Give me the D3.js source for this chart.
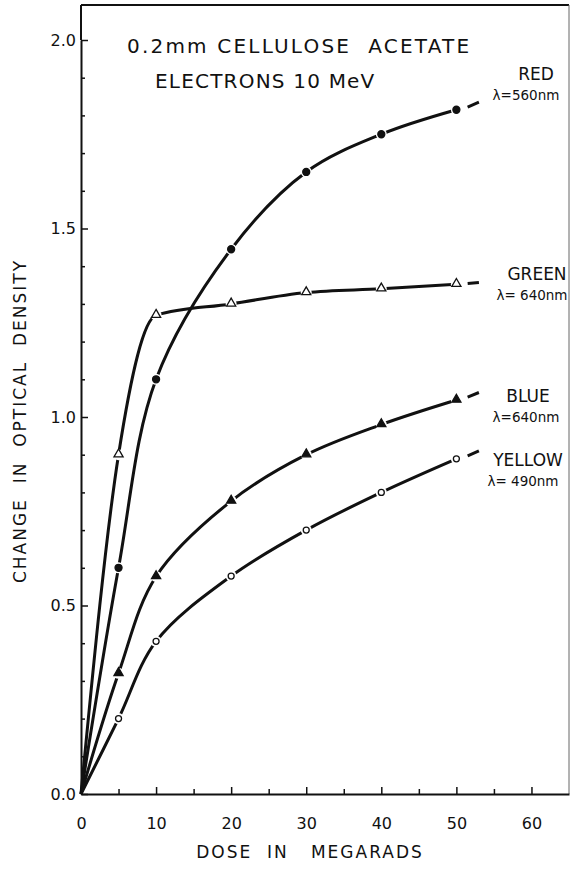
<!DOCTYPE html>
<meta charset="utf-8">
<head>
  <title>Optical density vs dose</title>
  <script src="https://cdnjs.cloudflare.com/ajax/libs/d3/7.8.5/d3.min.js"></script>
  <style>
    body { margin: 0; background: #fff; }
    text { font-family: "DejaVu Sans", sans-serif; fill: #111; }
  </style>
</head>
<body>
<div id="chart"></div>
<script>
  // doses (megarads) where samples were read
  var doses = [0, 5, 10, 20, 30, 40, 50];

  // change in optical density
  var redOD    = [0, 0.60, 1.10, 1.445, 1.65, 1.75, 1.815];
  var greenOD  = [0, 0.90, 1.27, 1.30, 1.33, 1.34, 1.352];
  var blueOD   = [0, 0.32, 0.577, 0.777, 0.90, 0.98, 1.045];
  var yellowOD = [0, 0.20, 0.405, 0.578, 0.70, 0.80, 0.889];

  // the short dashed continuation drawn past the last point
  var extDoses  = [51.5, 53];
  var redExt    = [1.822, 1.835];
  var greenExt  = [1.354, 1.357];
  var blueExt   = [1.053, 1.065];
  var yellowExt = [0.897, 0.91];

  var names  = ["RED", "GREEN", "BLUE", "YELLOW"];
  var waves  = ["\u03bb=560nm", "\u03bb= 640nm", "\u03bb=640nm", "\u03bb= 490nm"];
  var xTicks = [0, 10, 20, 30, 40, 50, 60];
  var yTicks = [0.0, 0.5, 1.0, 1.5, 2.0];

  var width = 570, height = 869;
  var svg = d3.select("#chart").append("svg")
    .attr("width", width)
    .attr("height", height);

  var x = d3.scaleLinear().domain([0, 65]).range([81, 569]);
  var y = d3.scaleLinear().domain([0, 2]).range([794, 40]);

  // frame: top and right edges
  svg.append("line").attr("x1", x(0)).attr("x2", x(65)).attr("y1", 5).attr("y2", 5)
    .attr("stroke", "#111").attr("stroke-width", 2);
  svg.append("line").attr("x1", x(65)).attr("x2", x(65)).attr("y1", 5).attr("y2", y(0))
    .attr("stroke", "#666").attr("stroke-width", 1);

  // x axis, ticks pointing inward
  svg.append("g").attr("transform", "translate(0," + y(0) + ")")
    .call(d3.axisBottom(x).tickValues(xTicks).tickFormat(d3.format("d"))
      .tickSizeInner(-7).tickSizeOuter(0).tickPadding(24));
  svg.append("g").attr("transform", "translate(0," + y(0) + ")")
    .call(d3.axisBottom(x).tickValues(d3.range(5, 65, 10)).tickFormat("")
      .tickSizeInner(-5).tickSizeOuter(0))
    .select(".domain").remove();

  svg.append("g").attr("transform", "translate(" + x(0) + ",0)")
    .call(d3.axisLeft(y).tickValues(yTicks).tickFormat(d3.format(".1f"))
      .tickSizeInner(-7).tickSizeOuter(0).tickPadding(5));
  svg.append("g").attr("transform", "translate(" + x(0) + ",0)")
    .call(d3.axisLeft(y).tickValues(d3.range(0.1, 2.1, 0.1).filter(function (v) {
        return Math.abs(v * 2 - Math.round(v * 2)) > 0.01;
      })).tickFormat("").tickSizeInner(-4).tickSizeOuter(0))
    .select(".domain").remove();

  svg.selectAll(".domain").attr("stroke", "#111").attr("stroke-width", 2);
  svg.selectAll(".tick line").attr("stroke", "#111").attr("stroke-width", 1.5);
  svg.selectAll(".tick text").attr("font-size", 16).attr("fill", "#111");
  // extend left axis up to the frame
  svg.append("line").attr("x1", x(0)).attr("x2", x(0)).attr("y1", 5).attr("y2", y(2))
    .attr("stroke", "#111").attr("stroke-width", 2);

  var series = [
    { od: redOD, ext: redExt, marker: "circle", filled: true, curve: d3.curveCatmullRom.alpha(0.5) },
    { od: greenOD, ext: greenExt, marker: "triangle", filled: false, curve: d3.curveMonotoneX },
    { od: blueOD, ext: blueExt, marker: "triangle", filled: true, curve: d3.curveCatmullRom.alpha(0.5) },
    { od: yellowOD, ext: yellowExt, marker: "circle", filled: false, curve: d3.curveCatmullRom.alpha(0.5) }
  ];

  series.forEach(function (s) {
    var line = d3.line()
      .x(function (d) { return x(d[0]); })
      .y(function (d) { return y(d[1]); })
      .curve(s.curve);
    var pts = doses.map(function (d, i) { return [d, s.od[i]]; });
    svg.append("path").datum(pts)
      .attr("d", line)
      .attr("fill", "none").attr("stroke", "#111").attr("stroke-width", 3);
    var ext = extDoses.map(function (d, i) { return [d, s.ext[i]]; });
    svg.append("path").datum(ext)
      .attr("d", line)
      .attr("fill", "none").attr("stroke", "#111").attr("stroke-width", 3);
  });

  // markers with a thin white halo to leave small gaps in the curve
  var tri = d3.symbol().type(d3.symbolTriangle).size(36);
  series.forEach(function (s) {
    var pts = doses.slice(1).map(function (d, i) { return [d, s.od[i + 1]]; });
    var g = svg.append("g");
    g.selectAll("circle.halo").data(pts).enter().append("circle")
      .attr("cx", function (d) { return x(d[0]); })
      .attr("cy", function (d) { return y(d[1]); })
      .attr("r", 5.5).attr("fill", "#fff");
    if (s.marker === "circle") {
      g.selectAll("circle.m").data(pts).enter().append("circle")
        .attr("cx", function (d) { return x(d[0]); })
        .attr("cy", function (d) { return y(d[1]); })
        .attr("r", s.filled ? 3.5 : 3)
        .attr("fill", s.filled ? "#111" : "#fff")
        .attr("stroke", "#111").attr("stroke-width", 1.3);
    } else {
      g.selectAll("path").data(pts).enter().append("path")
        .attr("d", tri)
        .attr("transform", function (d) { return "translate(" + x(d[0]) + "," + (y(d[1]) - 0.5) + ")"; })
        .attr("fill", s.filled ? "#111" : "#fff")
        .attr("stroke", "#111").attr("stroke-width", 1.3);
    }
  });

  // series labels on the right
  var labelY = [80, 280, 402, 466];
  var nameX = [536, 537, 528, 528];
  var waveX = [526, 532, 526, 523];
  names.forEach(function (n, i) {
    svg.append("text").attr("x", nameX[i]).attr("y", labelY[i])
      .attr("text-anchor", "middle").attr("font-size", 17).text(n);
    svg.append("text").attr("x", waveX[i]).attr("y", labelY[i] + 20)
      .attr("text-anchor", "middle").attr("font-size", 13.5).text(waves[i]);
  });

  // title
  svg.append("text").attr("x", 127).attr("y", 53)
    .attr("font-size", 20).attr("letter-spacing", 2.2).attr("xml:space", "preserve")
    .text("0.2mm CELLULOSE  ACETATE");
  svg.append("text").attr("x", 155).attr("y", 88)
    .attr("font-size", 20).attr("letter-spacing", 1.2).attr("xml:space", "preserve")
    .text("ELECTRONS 10 MeV");

  // axis titles
  svg.append("text").attr("x", 310).attr("y", 858).attr("text-anchor", "middle")
    .attr("font-size", 17).attr("letter-spacing", 2).attr("xml:space", "preserve")
    .text("DOSE  IN   MEGARADS");
  svg.append("text").attr("transform", "translate(26,421) rotate(-90)")
    .attr("text-anchor", "middle").attr("font-size", 17).attr("letter-spacing", 2)
    .attr("xml:space", "preserve")
    .text("CHANGE  IN  OPTICAL  DENSITY");
</script>
</body>
</html>
